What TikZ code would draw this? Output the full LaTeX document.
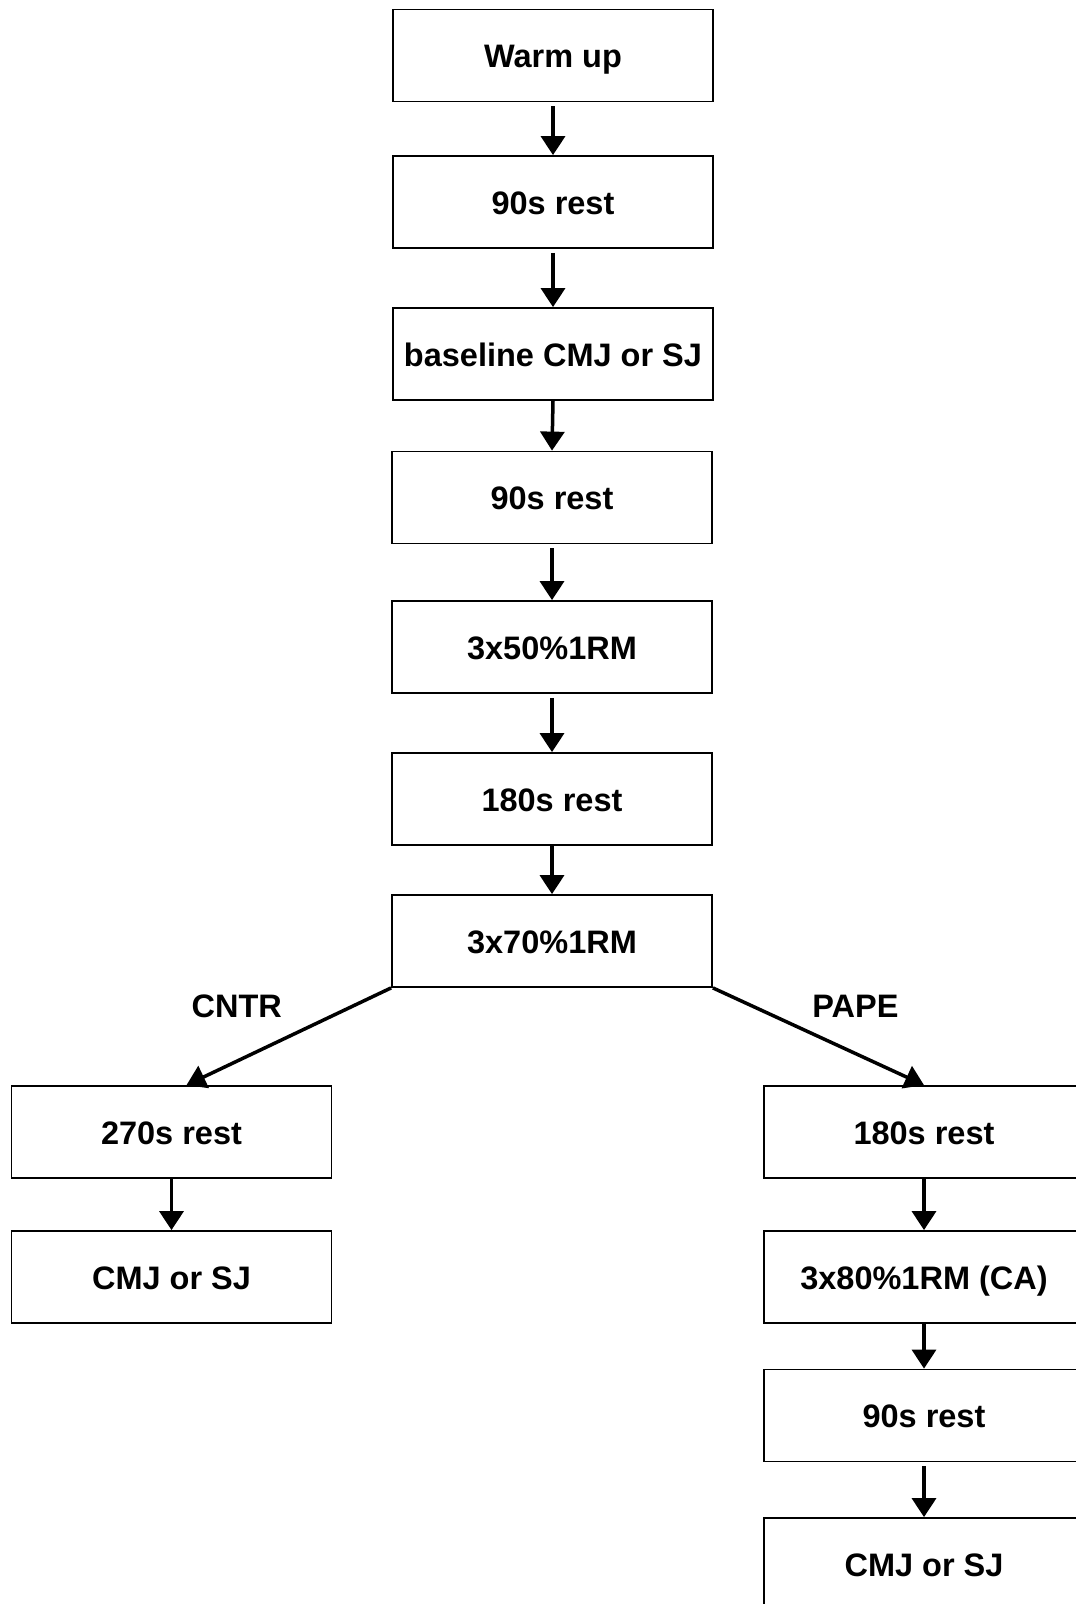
\documentclass[tikz,border=0pt]{standalone}
\usepackage{fontspec}
\setmainfont{Liberation Sans}
\usetikzlibrary{arrows.meta}

\begin{document}
\begin{tikzpicture}[x=1pt,y=-1pt,
		>={Triangle[length=19pt,width=24pt]},
		box/.style={draw, line width=1.8pt, minimum width=320pt, minimum height=92pt, inner sep=0pt, text height=29pt, text depth=5pt, font=\fontsize{32.5}{39}\selectfont\bfseries},
		arr/.style={->, line width=3.5pt},
		lbl/.style={font=\fontsize{32.5}{39}\selectfont\bfseries}]
		\useasboundingbox (0,0) rectangle (1076,1604);

		% main column
		\node (warm) [box] at (553,55.5) {Warm up};
		\node (rest1) [box] at (553,202) {90s rest};
		\node (base) [box] at (553,354) {baseline CMJ or SJ};
		\node (rest2) [box] at (552,497.5) {90s rest};
		\node (fifty) [box] at (552,647) {3x50\%1RM};
		\node (rest3) [box] at (552,799) {180s rest};
		\node (seventy) [box] at (552,941) {3x70\%1RM};

		% control branch
		\node (restC) [box] at (171.5,1132) {270s rest};
		\node (jumpC) [box] at (171.5,1277) {CMJ or SJ};

		% potentiation branch
		\node (restP) [box] at (924,1132) {180s rest};
		\node (heavy) [box] at (924,1277) {3x80\%1RM (CA)};
		\node (restP2) [box] at (924,1415.5) {90s rest};
		\node (jumpP) [box] at (924,1564) {CMJ or SJ};

		\draw [arr, shorten <=4pt] (warm.south)--(rest1.north);
		\draw [arr, shorten <=4pt] (rest1.south)--(base.north);
		\draw [arr] (base.south)--(rest2.north);
		\draw [arr, shorten <=4pt] (rest2.south)--(fifty.north);
		\draw [arr, shorten <=4pt] (fifty.south)--(rest3.north);
		\draw [arr] (rest3.south)--(seventy.north);
		\draw [arr] (seventy.south west)--([xshift=15pt]restC.north) node[lbl, above, midway, xshift=-52pt, yshift=14pt] {CNTR};
		\draw [arr] (seventy.south east)--(restP.north) node[lbl, above, midway, xshift=37pt, yshift=14pt] {PAPE};
		\draw [arr] (restC.south)--(jumpC.north);
		\draw [arr] (restP.south)--(heavy.north);
		\draw [arr] (heavy.south)--(restP2.north);
		\draw [arr, shorten <=4pt] (restP2.south)--(jumpP.north);
	\end{tikzpicture}
\end{document}
